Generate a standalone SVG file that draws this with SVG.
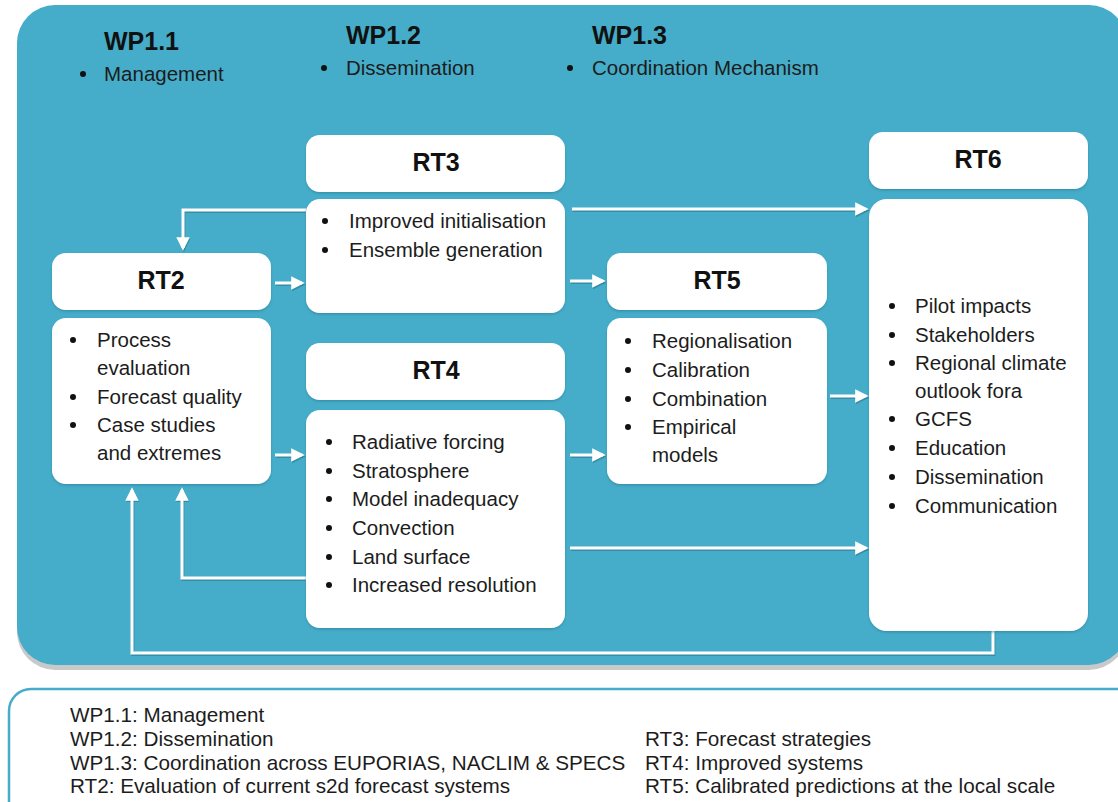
<svg xmlns="http://www.w3.org/2000/svg" width="1118" height="802" viewBox="0 0 1118 802">
<defs>
<style>
.box{fill:#ffffff;filter:url(#sh)}
.hd{font-family:"Liberation Sans",Arial,sans-serif;font-weight:bold;font-size:25px;fill:#111;text-anchor:middle}
.tx{font-family:"Liberation Sans",Arial,sans-serif;font-size:20.5px;fill:#1c1c1c}
.wp{font-family:"Liberation Sans",Arial,sans-serif;font-weight:bold;font-size:25px;fill:#111}
.lg{font-family:"Liberation Sans",Arial,sans-serif;font-size:20.7px;fill:#1c1c1c}
.ar{fill:none;stroke:#ffffff;stroke-width:3;marker-end:url(#ah)}
.as{fill:none;stroke:#2b7a90;stroke-opacity:0.6;stroke-width:3;marker-end:url(#ahs)}
</style>
<filter id="sh" x="-5%" y="-5%" width="110%" height="115%">
<feDropShadow dx="0" dy="1.5" stdDeviation="1.2" flood-color="#2a7f96" flood-opacity="0.6"/>
</filter>
<marker id="ah" viewBox="0 0 10 10" refX="8" refY="5" markerWidth="4.5" markerHeight="4.5" orient="auto" markerUnits="strokeWidth">
<path d="M0,0 L10,5 L0,10 Z" fill="#ffffff"/>
</marker>
<marker id="ahs" viewBox="0 0 10 10" refX="8" refY="5" markerWidth="4.5" markerHeight="4.5" orient="auto" markerUnits="strokeWidth">
<path d="M0,0 L10,5 L0,10 Z" fill="#2b7a90" fill-opacity="0.6"/>
</marker>
</defs>
<rect x="0" y="0" width="1118" height="802" fill="#ffffff"/>
<g id="panel">
<rect x="17" y="9" width="1110" height="661" rx="38" fill="#c9c9c9"/>
<rect x="17" y="5" width="1110" height="660" rx="38" fill="#45adc9"/>
</g>
<g id="wp11">
<text class="wp" x="104" y="50">WP1.1</text>
<circle cx="83" cy="74" r="3" fill="#111"/>
<text class="tx" x="104" y="81">Management</text>
</g>
<g id="wp12">
<text class="wp" x="346" y="44">WP1.2</text>
<circle cx="324" cy="68" r="3" fill="#111"/>
<text class="tx" x="346" y="75">Dissemination</text>
</g>
<g id="wp13">
<text class="wp" x="592" y="44">WP1.3</text>
<circle cx="570" cy="68" r="3" fill="#111"/>
<text class="tx" x="592" y="75">Coordination Mechanism</text>
</g>
<g id="connectors">
<g transform="translate(0.8,1.5)">
<path class="as" d="M306,210 H183 V248"/>
<path class="as" d="M275,283 H302"/>
<path class="as" d="M572,209 H866"/>
<path class="as" d="M570,281 H603"/>
<path class="as" d="M275,455 H302"/>
<path class="as" d="M570,455 H603"/>
<path class="as" d="M830,396 H866"/>
<path class="as" d="M570,548 H866"/>
<path class="as" d="M306,578 H182 V490"/>
<path class="as" d="M993,631 V653 H132 V490"/>
</g>
<path class="ar" d="M306,210 H183 V248"/>
<path class="ar" d="M275,283 H302"/>
<path class="ar" d="M572,209 H866"/>
<path class="ar" d="M570,281 H603"/>
<path class="ar" d="M275,455 H302"/>
<path class="ar" d="M570,455 H603"/>
<path class="ar" d="M830,396 H866"/>
<path class="ar" d="M570,548 H866"/>
<path class="ar" d="M306,578 H182 V490"/>
<path class="ar" d="M993,631 V653 H132 V490"/>
</g>
<g id="rt3">
<rect class="box" x="306" y="135" width="259" height="57" rx="14"/>
<text class="hd" x="436" y="171">RT3</text>
<rect class="box" x="306" y="199" width="259" height="114" rx="14"/>
<circle cx="325" cy="221" r="3" fill="#111"/>
<text class="tx" x="349" y="228">Improved initialisation</text>
<circle cx="325" cy="250" r="3" fill="#111"/>
<text class="tx" x="349" y="257">Ensemble generation</text>
</g>
<g id="rt2">
<rect class="box" x="52" y="253" width="219" height="57" rx="14"/>
<text class="hd" x="161" y="289">RT2</text>
<rect class="box" x="52" y="318" width="219" height="166" rx="14"/>
<circle cx="73" cy="340" r="3" fill="#111"/>
<text class="tx" x="97" y="347">Process</text>
<text class="tx" x="97" y="375">evaluation</text>
<circle cx="73" cy="397" r="3" fill="#111"/>
<text class="tx" x="97" y="404">Forecast quality</text>
<circle cx="73" cy="425" r="3" fill="#111"/>
<text class="tx" x="97" y="432">Case studies</text>
<text class="tx" x="97" y="460">and extremes</text>
</g>
<g id="rt4">
<rect class="box" x="306" y="343" width="259" height="57" rx="14"/>
<text class="hd" x="436" y="379">RT4</text>
<rect class="box" x="306" y="410" width="259" height="218" rx="14"/>
<circle cx="329" cy="442" r="3" fill="#111"/>
<text class="tx" x="352" y="449">Radiative forcing</text>
<circle cx="329" cy="471" r="3" fill="#111"/>
<text class="tx" x="352" y="478">Stratosphere</text>
<circle cx="329" cy="499" r="3" fill="#111"/>
<text class="tx" x="352" y="506">Model inadequacy</text>
<circle cx="329" cy="528" r="3" fill="#111"/>
<text class="tx" x="352" y="535">Convection</text>
<circle cx="329" cy="557" r="3" fill="#111"/>
<text class="tx" x="352" y="564">Land surface</text>
<circle cx="329" cy="585" r="3" fill="#111"/>
<text class="tx" x="352" y="592">Increased resolution</text>
</g>
<g id="rt5">
<rect class="box" x="607" y="253" width="220" height="57" rx="14"/>
<text class="hd" x="717" y="289">RT5</text>
<rect class="box" x="607" y="318" width="220" height="166" rx="14"/>
<circle cx="628" cy="341" r="3" fill="#111"/>
<text class="tx" x="652" y="348">Regionalisation</text>
<circle cx="628" cy="370" r="3" fill="#111"/>
<text class="tx" x="652" y="377">Calibration</text>
<circle cx="628" cy="399" r="3" fill="#111"/>
<text class="tx" x="652" y="406">Combination</text>
<circle cx="628" cy="427" r="3" fill="#111"/>
<text class="tx" x="652" y="434">Empirical</text>
<text class="tx" x="652" y="462">models</text>
</g>
<g id="rt6">
<rect class="box" x="869" y="132" width="219" height="57" rx="14"/>
<text class="hd" x="978" y="168">RT6</text>
<rect class="box" x="869" y="199" width="219" height="432" rx="18"/>
<circle cx="892" cy="306" r="3" fill="#111"/>
<text class="tx" x="915" y="313">Pilot impacts</text>
<circle cx="892" cy="335" r="3" fill="#111"/>
<text class="tx" x="915" y="342">Stakeholders</text>
<circle cx="892" cy="363" r="3" fill="#111"/>
<text class="tx" x="915" y="370">Regional climate</text>
<text class="tx" x="915" y="398">outlook fora</text>
<circle cx="892" cy="419" r="3" fill="#111"/>
<text class="tx" x="915" y="426">GCFS</text>
<circle cx="892" cy="448" r="3" fill="#111"/>
<text class="tx" x="915" y="455">Education</text>
<circle cx="892" cy="477" r="3" fill="#111"/>
<text class="tx" x="915" y="484">Dissemination</text>
<circle cx="892" cy="506" r="3" fill="#111"/>
<text class="tx" x="915" y="513">Communication</text>
</g>
<g id="legend">
<rect x="9" y="689" width="1130" height="140" rx="22" fill="#ffffff" stroke="#47abcb" stroke-width="2.5"/>
<text class="lg" x="70" y="722">WP1.1: Management</text>
<text class="lg" x="70" y="746">WP1.2: Dissemination</text>
<text class="lg" x="70" y="770">WP1.3: Coordination across EUPORIAS, NACLIM &amp; SPECS</text>
<text class="lg" x="70" y="793">RT2: Evaluation of current s2d forecast systems</text>
<text class="lg" x="645" y="746">RT3: Forecast strategies</text>
<text class="lg" x="645" y="770">RT4: Improved systems</text>
<text class="lg" x="645" y="793">RT5: Calibrated predictions at the local scale</text>
</g>
</svg>
